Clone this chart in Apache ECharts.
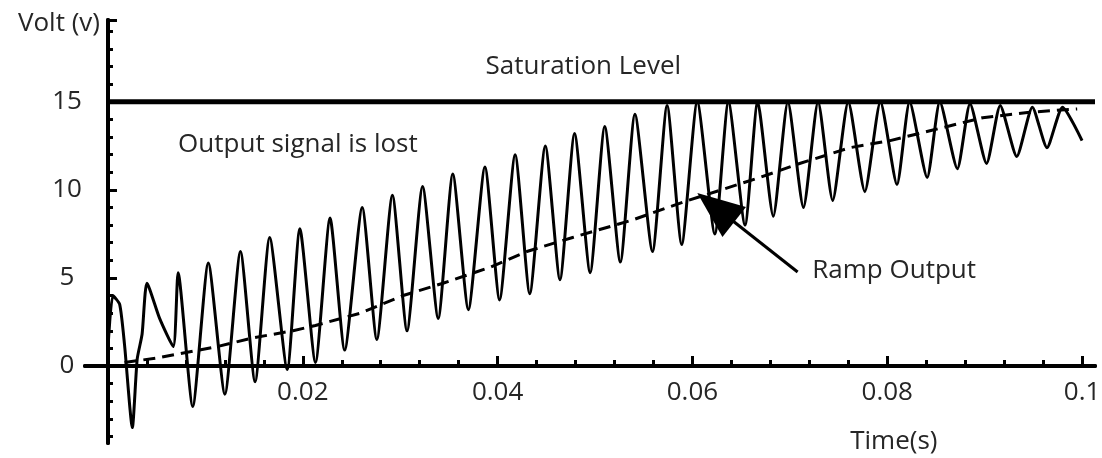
<!DOCTYPE html>
<html><head><meta charset="utf-8">
<script src="https://cdn.jsdelivr.net/npm/echarts@6/dist/echarts.min.js"></script>
<style>html,body{margin:0;padding:0;background:#fff}#c{width:1102px;height:458px}</style>
</head><body><div id="c"></div>
<script>
// ---- data (time in s, voltage in V) ----
const signalT = [0, 0.0005, 0.0012, 0.0017, 0.0025, 0.003, 0.0035, 0.004, 0.0053, 0.0067, 0.0072,
  0.0087, 0.0103, 0.012, 0.0136, 0.0151, 0.0166, 0.0184, 0.0197, 0.0213, 0.0228, 0.0243, 0.0261,
  0.0276, 0.0292, 0.0307, 0.0323, 0.0339, 0.0354, 0.037, 0.0387, 0.0402, 0.0418, 0.0433, 0.0449,
  0.0464, 0.0479, 0.0495, 0.051, 0.0526, 0.0541, 0.0559, 0.0574, 0.0589, 0.0605, 0.0623, 0.0637,
  0.0654, 0.0667, 0.0683, 0.0698, 0.0714, 0.0729, 0.0744, 0.076, 0.0777, 0.0793, 0.081, 0.0823,
  0.0841, 0.0854, 0.0872, 0.0885, 0.0902, 0.0916, 0.0933, 0.0949, 0.0964, 0.098, 0.1];
const signalV = [1.0, 4.0, 3.5, 1.2, -3.5, 0.4, 1.8, 4.7, 2.7, 1.1, 5.3,
  -2.3, 5.85, -1.6, 6.5, -0.9, 7.3, -0.2, 7.8, 0.2, 8.4, 0.9, 9.0,
  1.5, 9.7, 2.0, 10.2, 2.7, 10.9, 3.2, 11.3, 3.75, 12.0, 4.1, 12.5,
  4.9, 13.2, 5.3, 13.6, 5.9, 14.3, 6.5, 14.8, 6.9, 15.0, 7.5, 15.0,
  8.0, 15.0, 8.5, 15.0, 9.0, 15.0, 9.4, 15.0, 9.9, 15.0, 10.3, 15.0,
  10.7, 15.0, 11.2, 14.9, 11.5, 14.8, 11.9, 14.7, 12.4, 14.7, 12.8];
const rampT = [0.0017, 0.005, 0.0112, 0.0149, 0.019, 0.0213, 0.0259, 0.0303, 0.0344, 0.0392, 0.043,
  0.0477, 0.0539, 0.059, 0.0669, 0.071, 0.0762, 0.0803, 0.0847, 0.0898, 0.0944, 0.0995];
const rampV = [0.2, 0.45, 1.1, 1.6, 2.0, 2.3, 3.0, 4.0, 4.7, 5.6, 6.5,
  7.3, 8.3, 9.3, 10.7, 11.5, 12.4, 12.8, 13.4, 14.1, 14.4, 14.6];
const saturationLevel = 15;

// ---- axis ticks / labels ----
const xMajorTicks = [0, 0.02, 0.04, 0.06, 0.08, 0.1];
const xLabels = [0.02, 0.04, 0.06, 0.08, 0.1];
const xMinorTicks = [0.004, 0.008, 0.012, 0.016, 0.024, 0.028, 0.032, 0.036, 0.044, 0.048,
  0.052, 0.056, 0.064, 0.068, 0.072, 0.076, 0.084, 0.088, 0.092, 0.096];
const yLabels = [0, 5, 10, 15];
const yMajorTicks = [0, 5, 10, 15, 19.65];
const yMinorTicks = [-4, -3, -2, -1, 1, 2, 3, 4, 6, 7, 8, 9, 11, 12, 13, 14, 16, 17, 18, 19];
const X_MIN = -0.00236, X_MAX = 0.10133, Y_MIN = -4.375, Y_MAX = 19.65;

// ---- annotations (anchored in data space) ----
const notes = [
  { text: 'Saturation Level', at: [0.0488, 17.0], align: 'center' },
  { text: 'Output signal is lost', at: [0.0072, 12.56], align: 'left' },
  { text: 'Ramp Output', at: [0.0723, 5.4], align: 'left' },
  { text: 'Time(s)', at: [0.0762, -4.32], align: 'left' }
];
const arrowTip = [0.0605, 9.83];
const arrowTail = [0.0708, 5.34];

const FONT = "'Open Sans', 'Noto Sans', sans-serif";
const FS = 26;
const TXT = '#262626';

const chart = echarts.init(document.getElementById('c'), null, { renderer: 'canvas' });
const axisLine = { onZero: true, onZeroAxisIndex: 0, lineStyle: { color: '#000', width: 4 } };

chart.setOption({
  animation: false,
  backgroundColor: '#fff',
  grid: { left: 85, top: 20, width: 1010, height: 423, containLabel: false, outerBoundsMode: 'none' },
  xAxis: [
    {
      type: 'value', position: 'bottom', min: X_MIN, max: X_MAX,
      axisLine: axisLine,
      axisTick: { show: true, inside: true, length: 10, lineStyle: { color: '#000', width: 3 }, customValues: xMajorTicks },
      axisLabel: { customValues: xLabels, margin: -63, fontSize: FS, fontFamily: FONT, color: TXT,
        formatter: v => String(parseFloat(Number(v).toFixed(3))) },
      splitLine: { show: false }
    },
    {
      type: 'value', position: 'top', min: X_MIN, max: X_MAX,
      axisLine: axisLine,
      axisTick: { show: true, inside: false, length: 6, lineStyle: { color: '#000', width: 3 }, customValues: xMinorTicks },
      axisLabel: { show: false },
      splitLine: { show: false }
    }
  ],
  yAxis: [
    {
      type: 'value', position: 'left', min: Y_MIN, max: Y_MAX,
      name: 'Volt (v)', nameLocation: 'end', nameGap: -4,
      nameTextStyle: { align: 'right', verticalAlign: 'middle', padding: [0, 8, 0, 0], fontSize: FS, fontFamily: FONT, color: TXT },
      axisLine: axisLine,
      axisTick: { show: true, inside: true, length: 9, lineStyle: { color: '#000', width: 3 }, customValues: yMajorTicks },
      axisLabel: { customValues: yLabels, align: 'center', margin: 18, fontSize: FS, fontFamily: FONT, color: TXT },
      splitLine: { show: false }
    },
    {
      type: 'value', position: 'right', min: Y_MIN, max: Y_MAX,
      axisLine: axisLine,
      axisTick: { show: true, inside: false, length: 5, lineStyle: { color: '#000', width: 3 }, customValues: yMinorTicks },
      axisLabel: { show: false },
      splitLine: { show: false }
    }
  ],
  series: [
    {
      name: 'Saturation Level', type: 'line', xAxisIndex: 0, yAxisIndex: 0,
      data: [[0, saturationLevel], [X_MAX, saturationLevel]],
      showSymbol: false, symbol: 'none', lineStyle: { color: '#000', width: 5 }, z: 4, silent: true
    },
    {
      name: 'Ramp Output', type: 'line', xAxisIndex: 0, yAxisIndex: 0,
      data: rampT.map((t, i) => [t, rampV[i]]),
      showSymbol: false, symbol: 'none', lineStyle: { color: '#000', width: 3, type: [12, 7] }, z: 3
    },
    {
      name: 'Output signal', type: 'line', xAxisIndex: 0, yAxisIndex: 0,
      data: signalT.map((t, i) => [t, signalV[i]]),
      smooth: 0.2,
      showSymbol: false, symbol: 'none', lineStyle: { color: '#000', width: 3 }, z: 3
    }
  ]
});

// annotations placed through the chart's own coordinate system
const px = p => chart.convertToPixel({ gridIndex: 0 }, p);
const graphics = notes.map(n => {
  const p = px(n.at);
  return { type: 'text', x: p[0], y: p[1], z: 10,
    style: { text: n.text, fill: TXT, font: FS + "px " + FONT, textAlign: n.align, textVerticalAlign: 'middle' } };
});
const tip = px(arrowTip), tail = px(arrowTail);
const dx = tail[0] - tip[0], dy = tail[1] - tip[1];
const len = Math.hypot(dx, dy), ux = dx / len, uy = dy / len, nx = -uy, ny = ux;
const headLen = 47, headHalf = 19;
const bx = tip[0] + ux * headLen, by = tip[1] + uy * headLen;
graphics.push({ type: 'line', z: 10, shape: { x1: bx - ux * 4, y1: by - uy * 4, x2: tail[0], y2: tail[1] },
  style: { stroke: '#000', lineWidth: 3 } });
graphics.push({ type: 'polygon', z: 10,
  shape: { points: [[tip[0], tip[1]], [bx + nx * headHalf, by + ny * headHalf], [bx - nx * headHalf, by - ny * headHalf]] },
  style: { fill: '#000' } });
chart.setOption({ graphic: graphics });
</script>
</body></html>
